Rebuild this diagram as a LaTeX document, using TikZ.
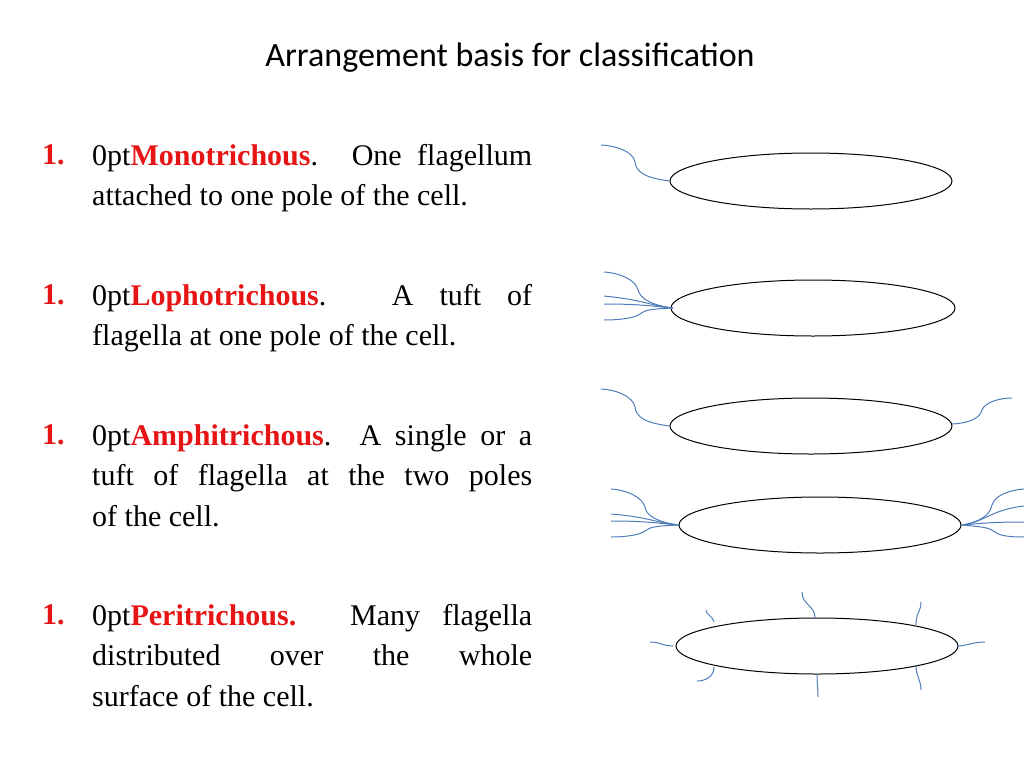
\documentclass[tikz,border=0pt]{standalone}
\usepackage{fontspec}
\setmainfont{Liberation Serif}
\newfontfamily\titlefont{Carlito}
\definecolor{rd}{RGB}{230,20,20}
\definecolor{fl}{RGB}{80,125,185}
\begin{document}
\begin{tikzpicture}[x=1pt,y=-1pt,
  cell/.style={draw=black,line width=1pt},
  flag/.style={draw=fl,line width=1pt},
  body/.style={anchor=north west,text width=440pt,align=justify,inner sep=0pt,font=\fontsize{30}{40.5}\selectfont\hyphenpenalty=10000\relax},
  num/.style={anchor=north west,inner sep=0pt,text=rd,font=\fontsize{30}{40.5}\selectfont\bfseries}]
\useasboundingbox (0,0) rectangle (1024,768);
\node (title) at (510,58) {\titlefont\fontsize{34}{40}\selectfont Arrangement basis for classification};
\foreach \n/\y in {a/144,b/284,c/424,d/604}{\node[num] (n\n) at (42,\y) {1.};}
\node[body] (ta) at (92,144) {\textcolor{rd}{\textbf{Monotrichous}}. One flagellum\linebreak attached to one pole of the cell.};
\node[body] (tb) at (92,284) {\textcolor{rd}{\textbf{Lophotrichous}}. A tuft of\linebreak flagella at one pole of the cell.};
\node[body] (tc) at (92,424) {\textcolor{rd}{\textbf{Amphitrichous}}. A single or a\linebreak tuft of flagella at the two poles\linebreak of the cell.};
\node[body] (td) at (92,604) {\textcolor{rd}{\textbf{Peritrichous.}} Many flagella\linebreak distributed over the whole\linebreak surface of the cell.};
% cells
\draw[cell] (811,181) ellipse [x radius=141,y radius=28];
\draw[cell] (813,308) ellipse [x radius=142,y radius=28];
\draw[cell] (811,426) ellipse [x radius=141,y radius=28];
\draw[cell] (820,525) ellipse [x radius=141,y radius=28];
\draw[cell] (817,646) ellipse [x radius=141,y radius=28];
% mono
\draw[flag] (670,181) .. controls (645,178) and (636,172) .. (635,162) .. controls (633,152) and (618,146) .. (601,145);
% lopho
\draw[flag] (673,308) .. controls (650,305) and (640,298) .. (638,290) .. controls (636,280) and (620,273) .. (604,272);
\draw[flag] (673,308) .. controls (655,307) and (645,300) .. (604,296);
\draw[flag] (673,308) .. controls (650,306) and (640,304) .. (604,304);
\draw[flag] (673,308) .. controls (650,309) and (645,310) .. (640,314) .. controls (635,318) and (620,320) .. (604,320);
% amphi
\draw[flag] (670,426) .. controls (645,423) and (636,417) .. (635,407) .. controls (633,397) and (618,390) .. (601,389);
\draw[flag] (952,424) .. controls (970,423) and (980,418) .. (982,410) .. controls (985,402) and (1000,398) .. (1012,398);
% lopho both
\draw[flag] (679,525) .. controls (656,522) and (646,515) .. (645,507) .. controls (642,497) and (627,490) .. (611,489);
\draw[flag] (679,525) .. controls (660,524) and (650,517) .. (611,514);
\draw[flag] (679,525) .. controls (655,523) and (645,521) .. (611,521);
\draw[flag] (679,525) .. controls (655,526) and (650,527) .. (645,531) .. controls (640,535) and (625,537) .. (611,537);
\draw[flag] (962,525) .. controls (980,522) and (990,515) .. (992,505) .. controls (995,495) and (1010,490) .. (1024,489);
\draw[flag] (962,525) .. controls (985,522) and (990,510) .. (1024,506);
\draw[flag] (962,525) .. controls (985,523) and (995,522) .. (1024,522);
\draw[flag] (962,525) .. controls (985,527) and (990,528) .. (995,532) .. controls (1000,536) and (1010,537) .. (1024,537);
% peri
\draw[flag] (673,646) .. controls (663,646) and (660,642) .. (650,642);
\draw[flag] (957,646) .. controls (967,646) and (972,642) .. (985,642);
\draw[flag] (714,622) .. controls (712,615) and (706,615) .. (706,610);
\draw[flag] (815,618) .. controls (815,605) and (802,605) .. (802,592);
\draw[flag] (916,625) .. controls (916,612) and (921,612) .. (921,602);
\draw[flag] (714,667) .. controls (714,677) and (705,681) .. (697,681);
\draw[flag] (817,674) .. controls (817,685) and (818,688) .. (818,697);
\draw[flag] (916,666) .. controls (916,676) and (921,680) .. (921,690);
\end{tikzpicture}
\end{document}
